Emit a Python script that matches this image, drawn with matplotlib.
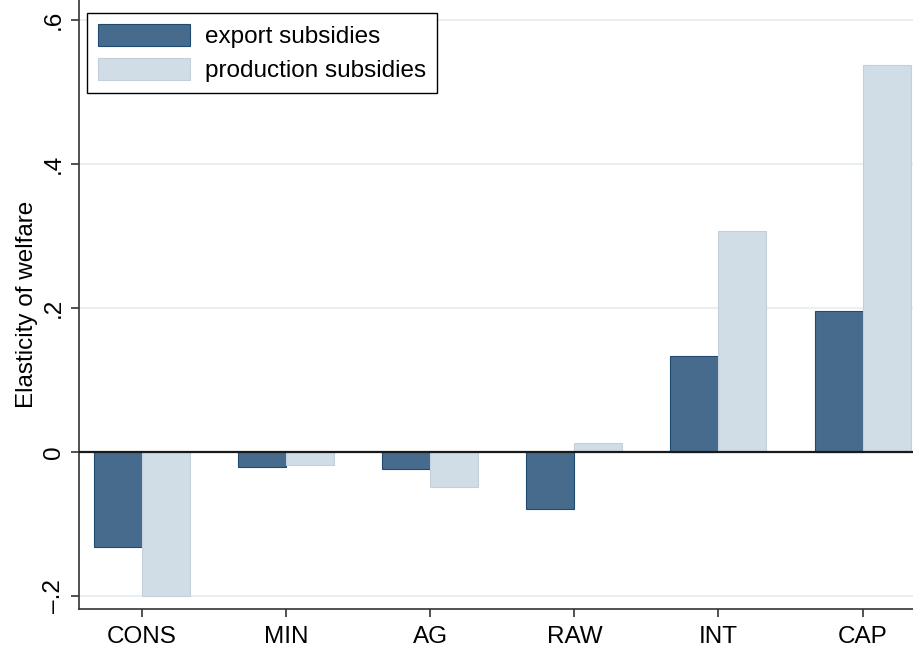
import numpy as np
import matplotlib.pyplot as plt

plt.rcParams['font.family'] = ['Liberation Sans', 'DejaVu Sans']

# data
sectors = ['CONS', 'MIN', 'AG', 'RAW', 'INT', 'CAP']
export_subs = [-0.132, -0.021, -0.024, -0.079, 0.133, 0.196]
production_subs = [-0.200, -0.018, -0.049, 0.0125, 0.307, 0.5375]

dark = '#476b8d'
light = '#d0dce6'

fig = plt.figure(figsize=(9.13, 6.49), dpi=100)
ax = fig.add_axes([79 / 913, 40 / 649, 834 / 913, 609 / 649])

x = np.arange(len(sectors))
w = 1 / 3
ax.bar(x - w / 2, export_subs, w, color=dark, edgecolor='#1f4a72', linewidth=0.8,
       label='export subsidies', zorder=3)
ax.bar(x + w / 2, production_subs, w, color=light, edgecolor='#c3d0dc', linewidth=0.8,
       label='production subsidies', zorder=3)

ax.axhline(0, color='#1a1a1a', linewidth=1.6, zorder=4)
for yv in [-0.2, 0.2, 0.4, 0.6]:
    ax.axhline(yv, color='#e8f0f2', linewidth=1.5, zorder=1)

ax.set_xlim(-0.4375, 5.35)
ax.set_ylim(-0.218, 0.628)

ax.set_xticks(x)
ax.set_xticklabels(sectors, fontsize=17.5)
ax.set_yticks([-0.2, 0, 0.2, 0.4, 0.6])
ax.set_yticklabels(['\u2013.2', '0', '.2', '.4', '.6'], fontsize=17.5, rotation=90, va='center')
ax.tick_params(axis='both', direction='out', length=6, width=1.2, color='#333333')
ax.tick_params(axis='x', pad=6)
ax.tick_params(axis='y', pad=4)
ax.set_ylabel('Elasticity of welfare', fontsize=17.5, labelpad=4)

for side in ['top', 'right']:
    ax.spines[side].set_visible(False)
for side in ['left', 'bottom']:
    ax.spines[side].set_linewidth(1.2)
    ax.spines[side].set_color('#333333')

leg = ax.legend(loc='upper left', bbox_to_anchor=(8 / 834, 1 - 13 / 609), fontsize=17.5,
                fancybox=False, edgecolor='black', framealpha=1, borderaxespad=0,
                handlelength=3.8, handleheight=1.0, handletextpad=0.6,
                labelspacing=0.4, borderpad=0.45)
leg.get_frame().set_linewidth(1.0)

fig.savefig('out.png', dpi=100)
